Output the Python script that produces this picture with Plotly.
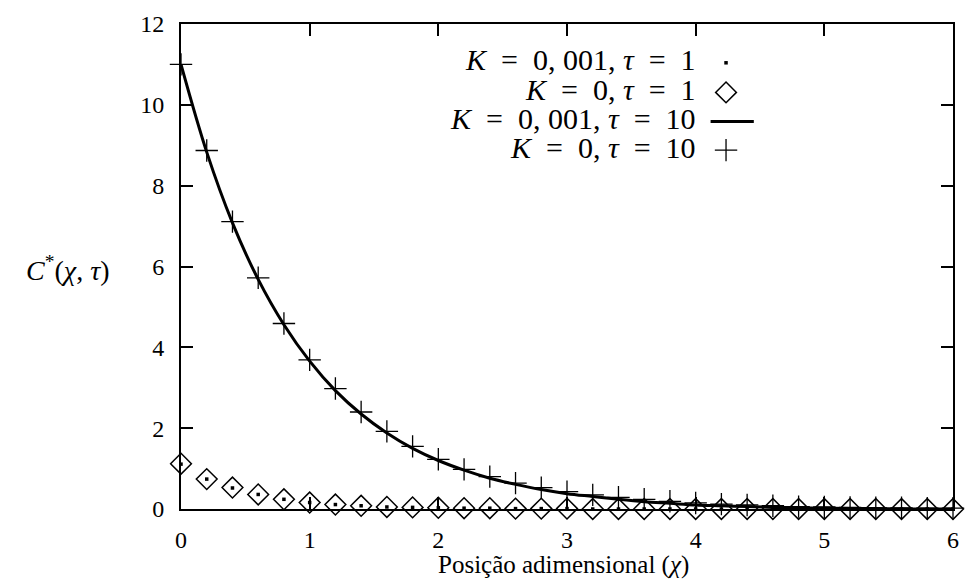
import plotly.graph_objects as go

# ---------------- data ----------------
chi = [round(0.2 * i, 1) for i in range(31)]

c_k0_t10 = [11.0, 8.87, 7.11, 5.72, 4.59, 3.69, 2.98, 2.40, 1.92, 1.55, 1.23,
            0.98, 0.80, 0.64, 0.53, 0.43, 0.35, 0.29, 0.24, 0.19, 0.15, 0.12,
            0.10, 0.08, 0.06, 0.05, 0.04, 0.03, 0.03, 0.02, 0.02]

c_k001_t10 = [11.0, 8.83, 7.08, 5.68, 4.56, 3.66, 2.93, 2.35, 1.88, 1.50, 1.20,
              0.96, 0.76, 0.61, 0.48, 0.38, 0.31, 0.24, 0.18, 0.14, 0.10, 0.08,
              0.06, 0.04, 0.03, 0.02, 0.01, 0.01, 0.0, 0.0, 0.0]

c_k0_t1 = [1.12, 0.74, 0.53, 0.36, 0.24, 0.16, 0.11, 0.08, 0.05, 0.04, 0.03,
           0.02, 0.02, 0.01, 0.01, 0.01, 0.0, 0.0, 0.0, 0.0, 0.0, 0.0,
           0.0, 0.0, 0.0, 0.0, 0.0, 0.0, 0.0, 0.0, 0.0]

c_k001_t1 = [1.11, 0.74, 0.52, 0.36, 0.24, 0.16, 0.11, 0.08, 0.05, 0.04, 0.03,
             0.02, 0.02, 0.01, 0.01, 0.01, 0.0, 0.0, 0.0, 0.0, 0.0, 0.0,
             0.0, 0.0, 0.0, 0.0, 0.0, 0.0, 0.0, 0.0, 0.0]

SP = "\u2002"  # en space, mimics TeX math spacing around "="
legend_labels = [
    f"<i>K</i>{SP}={SP}0, 001, <i>τ</i>{SP}={SP}1",
    f"<i>K</i>{SP}={SP}0, <i>τ</i>{SP}={SP}1",
    f"<i>K</i>{SP}={SP}0, 001, <i>τ</i>{SP}={SP}10",
    f"<i>K</i>{SP}={SP}0, <i>τ</i>{SP}={SP}10",
]

x_ticks = [0, 1, 2, 3, 4, 5, 6]
y_ticks = [0, 2, 4, 6, 8, 10, 12]

# ---------------- styles ----------------
FONT = "Liberation Serif"
BLACK = "#000000"

fig = go.Figure()

fig.add_trace(go.Scatter(x=chi, y=c_k001_t1, mode="markers", cliponaxis=False,
                         marker=dict(symbol="square", size=3.5, color=BLACK),
                         showlegend=False))
fig.add_trace(go.Scatter(x=chi, y=c_k0_t1, mode="markers", cliponaxis=False,
                         marker=dict(symbol="diamond-open", size=16, color=BLACK,
                                     line=dict(width=1.5, color=BLACK)),
                         showlegend=False))
fig.add_trace(go.Scatter(x=chi, y=c_k001_t10, mode="lines",
                         line=dict(color=BLACK, width=3, shape="spline"),
                         showlegend=False))
fig.add_trace(go.Scatter(x=chi, y=c_k0_t10, mode="markers", cliponaxis=False,
                         marker=dict(symbol="cross-thin-open", size=16, color=BLACK,
                                     line=dict(width=1.3, color="#222222")),
                         showlegend=False))

# ---------------- legend (text left, key right) ----------------
row_y = [0.920, 0.859, 0.799, 0.740]
text_row_y = [0.926, 0.865, 0.805, 0.746]
key_x = 0.706
text_x = 0.670

fig.add_trace(go.Scatter(x=[key_x], y=[row_y[0]], xaxis="x2", yaxis="y2", mode="markers",
                         marker=dict(symbol="square", size=3.5, color=BLACK),
                         showlegend=False, hoverinfo="skip"))
fig.add_trace(go.Scatter(x=[key_x], y=[row_y[1]], xaxis="x2", yaxis="y2", mode="markers",
                         marker=dict(symbol="diamond-open", size=16, color=BLACK,
                                     line=dict(width=1.5, color=BLACK)),
                         showlegend=False, hoverinfo="skip"))
fig.add_trace(go.Scatter(x=[0.686, 0.742], y=[row_y[2], row_y[2]], xaxis="x2", yaxis="y2",
                         mode="lines", line=dict(color=BLACK, width=3),
                         showlegend=False, hoverinfo="skip"))
fig.add_trace(go.Scatter(x=[key_x], y=[row_y[3]], xaxis="x2", yaxis="y2", mode="markers",
                         marker=dict(symbol="cross-thin-open", size=16, color=BLACK,
                                     line=dict(width=1.3, color="#222222")),
                         showlegend=False, hoverinfo="skip"))

annotations = []
for lab, yy in zip(legend_labels, text_row_y):
    annotations.append(dict(x=text_x, y=yy, xref="paper", yref="paper", text=lab,
                            showarrow=False, xanchor="right", yanchor="middle",
                            font=dict(family=FONT, size=30, color=BLACK)))

annotations.append(dict(x=0.496, y=-0.149, xref="paper", yref="paper",
                        text="Posição adimensional (<i>χ</i>)", showarrow=False,
                        xanchor="center", yanchor="bottom",
                        font=dict(family=FONT, size=25, color=BLACK)))
annotations.append(dict(x=-0.146, y=0.496, xref="paper", yref="paper",
                        text="<i>C</i><sup>*</sup>(<i>χ</i>, <i>τ</i>)", showarrow=False,
                        xanchor="center", yanchor="middle",
                        font=dict(family=FONT, size=28, color=BLACK)))

axis_common = dict(showline=True, linecolor=BLACK, linewidth=2, mirror="ticks",
                   ticks="inside", ticklen=12, tickwidth=2, tickcolor=BLACK,
                   showgrid=False, zeroline=False,
                   tickfont=dict(family=FONT, size=24, color=BLACK))

fig.update_layout(
    width=970, height=582,
    margin=dict(l=181, r=11, t=21, b=73),
    paper_bgcolor="white", plot_bgcolor="white",
    showlegend=False,
    xaxis=dict(range=[0, 6], tickvals=x_ticks, ticklabelstandoff=8, **axis_common),
    yaxis=dict(range=[0, 12], tickvals=y_ticks, ticklabelstandoff=10, **axis_common),
    xaxis2=dict(range=[0, 1], overlaying="x", visible=False),
    yaxis2=dict(range=[0, 1], overlaying="y", visible=False),
    annotations=annotations,
)

fig.write_html("out.html", config={"displayModeBar": False},
               post_script="document.body.style.margin='0';document.body.style.padding='0';")
